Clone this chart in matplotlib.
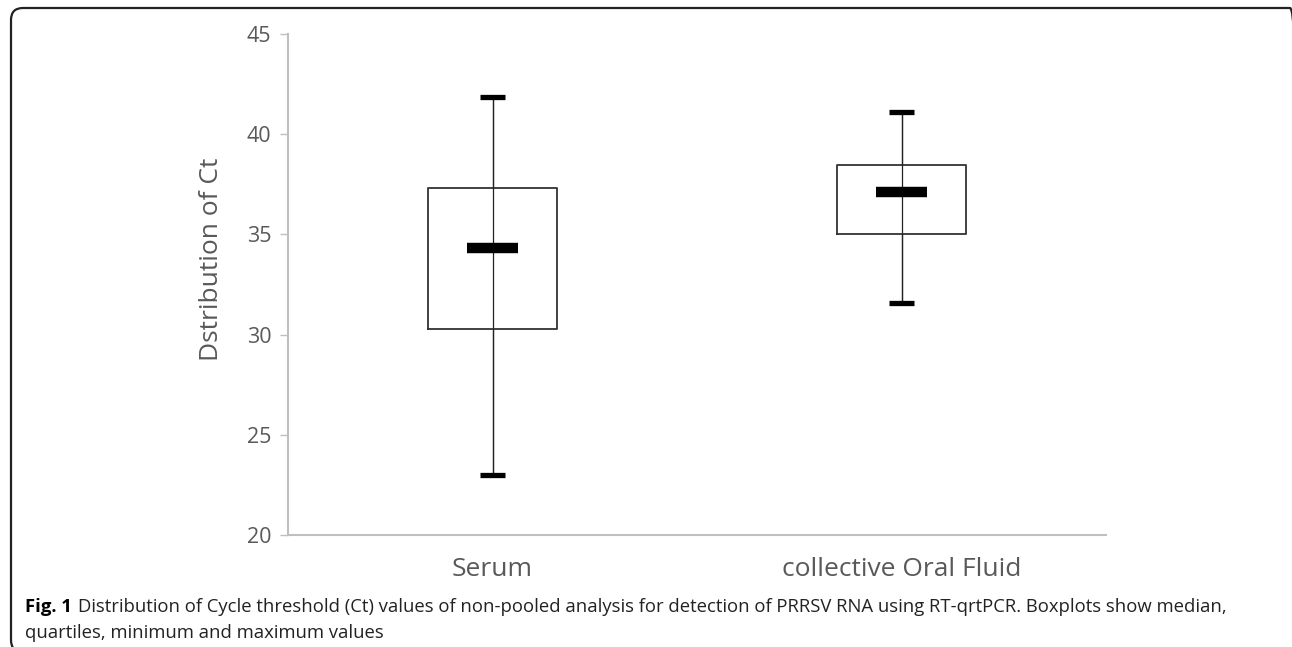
import matplotlib
matplotlib.use('Agg')
import matplotlib.pyplot as plt
from matplotlib.patches import FancyBboxPatch

# 箱线图数据 (Ct 值)
groups = ['Serum', 'collective Oral Fluid']
ct_min = [23.0, 31.6]
ct_q1 = [30.3, 35.0]
ct_median = [34.3, 37.1]
ct_q3 = [37.3, 38.45]
ct_max = [41.85, 41.1]
y_ticks = [20, 25, 30, 35, 40, 45]

plt.rcParams['font.family'] = ['Open Sans', 'DejaVu Sans']

fig = plt.figure(figsize=(12.92, 6.47), dpi=100)
ax = fig.add_axes([288 / 1292, 112 / 647, 818 / 1292, 501 / 647])

positions = list(range(len(groups)))
stats = []
for i in positions:
    stats.append(dict(med=ct_median[i], q1=ct_q1[i], q3=ct_q3[i],
                      whislo=ct_min[i], whishi=ct_max[i], fliers=[]))

# 须线贯穿箱体
ax.vlines(positions, ct_min, ct_max, color='#222222', linewidth=0.9, zorder=1)
ax.bxp(stats, positions=positions, widths=0.315, showfliers=False,
       capwidths=0.062,
       boxprops=dict(color='#333333', linewidth=1.3),
       whiskerprops=dict(color='#222222', linewidth=0.9),
       capprops=dict(color='black', linewidth=3.8, solid_capstyle='butt'),
       medianprops=dict(linewidth=0))
# 中位数粗线
for i in positions:
    ax.hlines(ct_median[i], i - 0.0625, i + 0.0625, color='black',
              linewidth=7.5, zorder=3)

ax.set_xlim(-0.5, 1.5)
ax.set_ylim(20, 45)
ax.set_yticks(y_ticks)
ax.set_xticks(positions)
ax.set_xticklabels(groups, fontsize=19, color='#595959')
ax.tick_params(axis='x', length=0, pad=16)
ax.tick_params(axis='y', length=6, width=1, color='#bfbfbf', labelsize=15.5,
               labelcolor='#595959', pad=6)
ax.set_ylabel('Dstribution of Ct', fontsize=19, color='#595959')
ax.yaxis.set_label_coords(-64 / 818, 0.55)

for side in ['top', 'right']:
    ax.spines[side].set_visible(False)
for side in ['left', 'bottom']:
    ax.spines[side].set_color('#bfbfbf')
    ax.spines[side].set_linewidth(1.5)

# 外框 (右侧与底部在图外)
frame = FancyBboxPatch((11, -5), 1291, 644, boxstyle='round,pad=0,rounding_size=12',
                       transform=None, fill=False, edgecolor='#222222',
                       linewidth=1.6, clip_on=False)
fig.patches.append(frame)

# 图注
cap_size = 13.3
t1 = fig.text(25 / 1292, 40 / 647, 'Fig. 1', fontsize=cap_size, fontweight='bold',
              va='center', ha='left', color='black')
fig.canvas.draw()
bb = t1.get_window_extent()
fig.text((bb.x1 + 6) / 1292, 40 / 647,
         'Distribution of Cycle threshold (Ct) values of non-pooled analysis for detection of '
         'PRRSV RNA using RT-qrtPCR. Boxplots show median,',
         fontsize=cap_size, va='center', ha='left', color='#222222')
fig.text(25 / 1292, 14 / 647, 'quartiles, minimum and maximum values',
         fontsize=cap_size, va='center', ha='left', color='#222222')

fig.savefig('out.png', dpi=100)
